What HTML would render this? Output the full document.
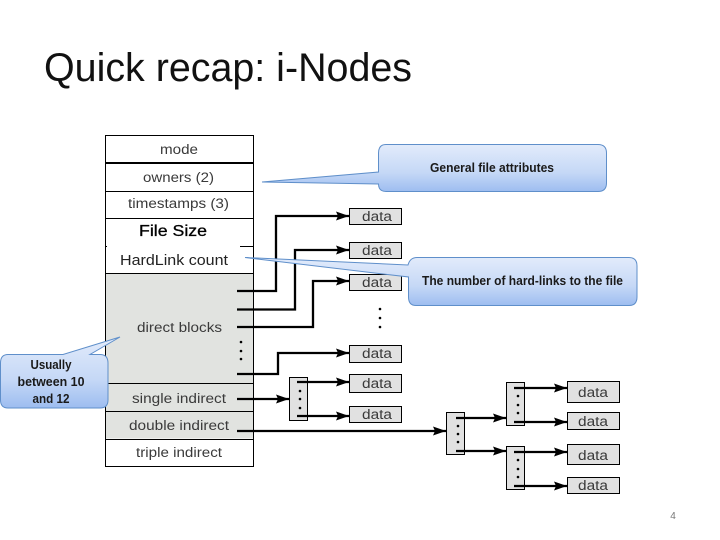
<!DOCTYPE html>
<html><head><meta charset="utf-8"><style>
html,body{margin:0;padding:0;background:#fff}
svg{display:block}
text{font-family:"Liberation Sans",sans-serif}
.l{font-size:13.500px;fill:#3a3a3a;text-anchor:middle}
.d{font-size:13.500px;fill:#3a3a3a;text-anchor:middle}
.c{font-size:13px;font-weight:bold;fill:#1a1a1a;text-anchor:middle}
</style></head><body>
<svg width="720" height="540" viewBox="0 0 720 540" xmlns="http://www.w3.org/2000/svg">
<defs>
<linearGradient id="g" x1="0" y1="0" x2="0" y2="1"><stop offset="0" stop-color="#e2ebfb"/><stop offset=".6" stop-color="#c5d8f6"/><stop offset="1" stop-color="#9dbdf0"/></linearGradient>
<marker id="a" markerUnits="userSpaceOnUse" markerWidth="14" markerHeight="11" refX="13" refY="5.500" orient="auto"><path d="M0 1L13 5.500L0 10L2 5.500z" fill="#000"/></marker>
</defs>
<text x="44" y="81" font-size="40" textLength="368" lengthAdjust="spacingAndGlyphs" fill="#111">Quick recap: i-Nodes</text>

<rect x="105.500" y="135.500" width="148" height="331" fill="#fff"/>
<rect x="105.500" y="273.500" width="148" height="165" fill="#e1e3e0"/>
<g stroke="#000" fill="none">
<path d="M105.500 135.500H253.500V466.500H105.500z"/>
<path d="M105.500 163H253.500" stroke-width="2"/>
<path d="M105.500 191.500H253.500M105.500 218.500H253.500M105.500 273.500H253.500M105.500 383.500H253.500M105.500 411.500H253.500M105.500 439.500H253.500"/>
<path d="M105.500 246.500H107M240 246.500H253"/>
</g>
<text class="l" x="179" y="154" textLength="38" lengthAdjust="spacingAndGlyphs">mode</text>
<text class="l" x="178.500" y="182" textLength="71" lengthAdjust="spacingAndGlyphs">owners (2)</text>
<text class="l" x="178.500" y="208" textLength="101" lengthAdjust="spacingAndGlyphs">timestamps (3)</text>
<text x="173" y="236" font-size="16" text-anchor="middle" fill="#000" stroke="#000" stroke-width=".3" textLength="68" lengthAdjust="spacingAndGlyphs">File Size</text>
<text x="174" y="265" font-size="15" text-anchor="middle" fill="#222" textLength="108" lengthAdjust="spacingAndGlyphs">HardLink count</text>
<text class="l" x="179.500" y="332" textLength="85" lengthAdjust="spacingAndGlyphs">direct blocks</text>
<text class="l" x="179" y="403" textLength="94" lengthAdjust="spacingAndGlyphs">single indirect</text>
<text class="l" x="179" y="430" textLength="100" lengthAdjust="spacingAndGlyphs">double indirect</text>
<text class="l" x="179" y="457" textLength="86" lengthAdjust="spacingAndGlyphs">triple indirect</text>

<g fill="#e1e1e1" stroke="#000">
<rect x="349.500" y="208.500" width="52" height="16"/>
<rect x="349.500" y="242.500" width="52" height="16"/>
<rect x="349.500" y="274.500" width="52" height="16"/>
<rect x="349.500" y="345.500" width="52" height="17"/>
<rect x="349.500" y="374.500" width="52" height="18"/>
<rect x="349.500" y="406.500" width="52" height="16"/>
<rect x="567.500" y="381.500" width="52" height="21"/>
<rect x="567.500" y="412.500" width="52" height="17"/>
<rect x="567.500" y="444.500" width="52" height="20"/>
<rect x="567.500" y="477.500" width="52" height="16"/>
<rect x="289.500" y="377.500" width="18" height="43"/>
<rect x="446.500" y="412.500" width="18" height="42"/>
<rect x="506.500" y="382.500" width="18" height="43"/>
<rect x="506.500" y="446.500" width="18" height="43"/>
</g>
<text class="d" x="377" y="221" textLength="30" lengthAdjust="spacingAndGlyphs">data</text>
<text class="d" x="377" y="255" textLength="30" lengthAdjust="spacingAndGlyphs">data</text>
<text class="d" x="377" y="287" textLength="30" lengthAdjust="spacingAndGlyphs">data</text>
<text class="d" x="377" y="358" textLength="30" lengthAdjust="spacingAndGlyphs">data</text>
<text class="d" x="377" y="388" textLength="30" lengthAdjust="spacingAndGlyphs">data</text>
<text class="d" x="377" y="419" textLength="30" lengthAdjust="spacingAndGlyphs">data</text>
<text class="d" x="593" y="397" textLength="30" lengthAdjust="spacingAndGlyphs">data</text>
<text class="d" x="593" y="426" textLength="30" lengthAdjust="spacingAndGlyphs">data</text>
<text class="d" x="593" y="460" textLength="30" lengthAdjust="spacingAndGlyphs">data</text>
<text class="d" x="593" y="490" textLength="30" lengthAdjust="spacingAndGlyphs">data</text>

<g fill="none" stroke="#000" stroke-width="2.300">
<path d="M237 291H276V216H349" marker-end="url(#a)"/>
<path d="M237 309.500H295V250H349" marker-end="url(#a)"/>
<path d="M237 327H313V281H349" marker-end="url(#a)"/>
<path d="M237 374H278V353H349" marker-end="url(#a)"/>
<path d="M237 399H289" marker-end="url(#a)"/>
<path d="M297 382H349" marker-end="url(#a)"/>
<path d="M297 416H349" marker-end="url(#a)"/>
<path d="M237 431H446" marker-end="url(#a)"/>
<path d="M456 418H506" marker-end="url(#a)"/>
<path d="M456 451H506" marker-end="url(#a)"/>
<path d="M514 388H567" marker-end="url(#a)"/>
<path d="M514 422H567" marker-end="url(#a)"/>
<path d="M514 452H567" marker-end="url(#a)"/>
<path d="M514 486H567" marker-end="url(#a)"/>
</g>
<g fill="#000">
<circle cx="241" cy="342" r="1.300"/><circle cx="241" cy="351" r="1.300"/><circle cx="241" cy="359" r="1.300"/>
<circle cx="380" cy="309" r="1.300"/><circle cx="380" cy="318" r="1.300"/><circle cx="380" cy="327" r="1.300"/>
<circle cx="300" cy="391" r="1.300"/><circle cx="300" cy="399" r="1.300"/><circle cx="300" cy="408" r="1.300"/>
<circle cx="458" cy="426" r="1.300"/><circle cx="458" cy="434" r="1.300"/><circle cx="458" cy="442" r="1.300"/>
<circle cx="518" cy="396" r="1.300"/><circle cx="518" cy="405" r="1.300"/><circle cx="518" cy="413" r="1.300"/>
<circle cx="518" cy="460" r="1.300"/><circle cx="518" cy="469" r="1.300"/><circle cx="518" cy="477" r="1.300"/>
</g>

<g fill="url(#g)" stroke="#5f8fca" stroke-width="1">
<path d="M386 144.500H598Q606.500 144.500 606.500 153V183Q606.500 191.500 598 191.500H386Q378.500 191.500 378.500 184L262 182L378.500 172V153Q378.500 144.500 386 144.500z"/>
<path d="M417 257.500H629Q637 257.500 637 266V297Q637 305.500 629 305.500H416Q408.500 305.500 408.500 297V277L245 257.500L408 265Q410 257.500 417 257.500z"/>
<path d="M8 354.500H63L120 337L90 354.500H100Q108 354.500 108 363V400Q108 408 100 408H8Q0.500 408 0.500 400V363Q0.500 354.500 8 354.500z"/>
</g>
<text class="c" x="492" y="172" textLength="124" lengthAdjust="spacingAndGlyphs">General file attributes</text>
<text class="c" x="522.500" y="285" textLength="201" lengthAdjust="spacingAndGlyphs">The number of hard-links to the file</text>
<text class="c" x="51" y="369" textLength="41" lengthAdjust="spacingAndGlyphs">Usually</text>
<text class="c" x="51" y="386" textLength="67" lengthAdjust="spacingAndGlyphs">between 10</text>
<text class="c" x="51" y="403" textLength="37" lengthAdjust="spacingAndGlyphs">and 12</text>
<text x="673" y="519" font-size="10" fill="#777" text-anchor="middle">4</text>
</svg>
</body></html>
